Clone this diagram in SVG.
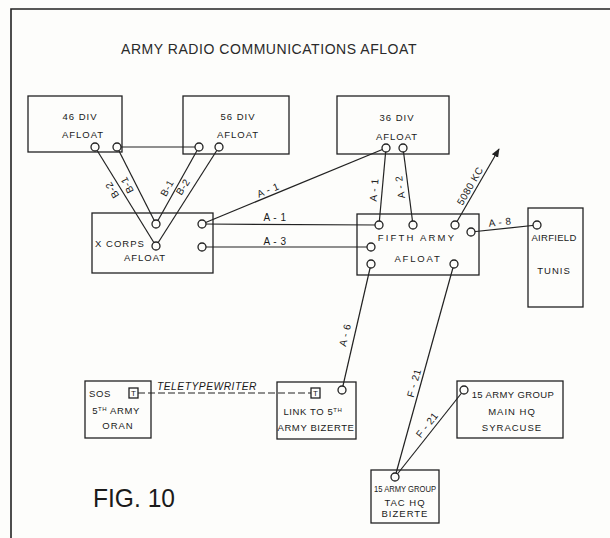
<svg xmlns="http://www.w3.org/2000/svg" width="610" height="538" viewBox="0 0 610 538">
<defs>
<style>
.bg{fill:#fdfdfb}
.frame{fill:none;stroke:#222;stroke-width:1.6}
.box{fill:none;stroke:#222;stroke-width:1.3}
.port{fill:#fdfdfb;stroke:#222;stroke-width:1.3}
.ln{fill:none;stroke:#222;stroke-width:1.2}
.dash{fill:none;stroke:#222;stroke-width:1.2;stroke-dasharray:7 3}
text{font-family:"Liberation Sans",Arial,sans-serif;fill:#1a1a1a}
.t{font-size:9.5px;letter-spacing:1px;text-anchor:middle}
.lb{font-size:10px;text-anchor:middle;letter-spacing:0.5px}
.title{font-size:15.5px;letter-spacing:0.6px;fill:#2a2a2a}
</style>
<marker id="arr" viewBox="0 0 10 10" refX="9" refY="5" markerWidth="9" markerHeight="9" markerUnits="userSpaceOnUse" orient="auto">
<path d="M0,1 L10,5 L0,9 Z" fill="#222"/>
</marker>
</defs>
<rect class="bg" x="0" y="0" width="610" height="538"/>
<path class="frame" d="M11,538 L11,9 L610,9"/>
<text class="title" x="121" y="54" textLength="296" lengthAdjust="spacingAndGlyphs">ARMY RADIO COMMUNICATIONS AFLOAT</text>

<g id="connectors">
<line class="ln" x1="117" y1="147" x2="199" y2="147"/>
<line class="ln" x1="95" y1="147" x2="156" y2="246"/>
<line class="ln" x1="117" y1="147" x2="156" y2="224"/>
<line class="ln" x1="199" y1="147" x2="156" y2="224"/>
<line class="ln" x1="219" y1="147" x2="156" y2="246"/>
<line class="ln" x1="202" y1="224" x2="386" y2="148"/>
<line class="ln" x1="202" y1="224" x2="379" y2="225"/>
<line class="ln" x1="202" y1="247" x2="371" y2="247"/>
<line class="ln" x1="386" y1="148" x2="379" y2="225"/>
<line class="ln" x1="403" y1="148" x2="413" y2="225"/>
<line class="ln" x1="455" y1="225" x2="499" y2="149" marker-end="url(#arr)"/>
<line class="ln" x1="471" y1="232" x2="537" y2="225"/>
<line class="ln" x1="371" y1="264" x2="342" y2="390"/>
<line class="ln" x1="454" y1="264" x2="395" y2="477"/>
<line class="ln" x1="464" y1="390" x2="395" y2="477"/>
<line class="dash" x1="138" y1="393" x2="311" y2="393"/>
<g class="labels">
<text class="lb" transform="translate(112,190) rotate(-121.6)" y="3.5">B-2</text>
<text class="lb" transform="translate(127,185) rotate(-116.9)" y="3.5">B-1</text>
<text class="lb" transform="translate(167,188) rotate(-60.8)" y="3.5">B-1</text>
<text class="lb" transform="translate(183,187) rotate(-57.5)" y="3.5">B-2</text>
<text class="lb" transform="translate(268,190) rotate(-22.4)" y="3.5">A - 1</text>
<text class="lb" x="275" y="221">A - 1</text>
<text class="lb" x="275" y="245">A - 3</text>
<text class="lb" transform="translate(374,190) rotate(-84.8)" y="3.5">A - 1</text>
<text class="lb" transform="translate(400,187) rotate(-97)" y="3.5">A - 2</text>
<text class="lb" transform="translate(470,186) rotate(-60)" y="3.5">5080 KC</text>
<text class="lb" transform="translate(500,222) rotate(-6)" y="3.5">A - 8</text>
<text class="lb" transform="translate(345,335) rotate(-77)" y="3.5">A - 6</text>
<text class="lb" transform="translate(414,383) rotate(-74.5)" y="3.5">F - 21</text>
<text class="lb" transform="translate(427,425) rotate(-51.6)" y="3.5">F - 21</text>
<text class="lb" x="207" y="390" font-style="italic" textLength="100" lengthAdjust="spacingAndGlyphs">TELETYPEWRITER</text>
</g>
</g>

<g id="div46">
<rect class="box" x="28" y="96" width="94" height="56"/>
<text class="t" x="80" y="120">46 DIV</text>
<text class="t" x="83" y="138">AFLOAT</text>
<circle class="port" cx="95" cy="147" r="4"/>
<circle class="port" cx="117" cy="147" r="4"/>
</g>

<g id="div56">
<rect class="box" x="183" y="96" width="106" height="58"/>
<text class="t" x="238" y="120">56 DIV</text>
<text class="t" x="238" y="138">AFLOAT</text>
<circle class="port" cx="199" cy="147" r="4"/>
<circle class="port" cx="219" cy="147" r="4"/>
</g>

<g id="div36">
<rect class="box" x="337" y="96" width="112" height="58"/>
<text class="t" x="397" y="121">36 DIV</text>
<text class="t" x="397" y="140">AFLOAT</text>
<circle class="port" cx="386" cy="148" r="4"/>
<circle class="port" cx="403" cy="148" r="4"/>
</g>

<g id="xcorps">
<rect class="box" x="92" y="213" width="121" height="60"/>
<text class="t" x="120" y="247">X CORPS</text>
<text class="t" x="145" y="261">AFLOAT</text>
<circle class="port" cx="156" cy="224" r="4"/>
<circle class="port" cx="156" cy="246" r="4"/>
<circle class="port" cx="202" cy="224" r="4"/>
<circle class="port" cx="202" cy="247" r="4"/>
</g>

<g id="fifth">
<rect class="box" x="357" y="214" width="122" height="61"/>
<text class="t" x="417" y="241" style="letter-spacing:2.2px">FIFTH ARMY</text>
<text class="t" x="418" y="262" style="letter-spacing:1.8px">AFLOAT</text>
<circle class="port" cx="379" cy="225" r="4"/>
<circle class="port" cx="413" cy="225" r="4"/>
<circle class="port" cx="455" cy="225" r="4"/>
<circle class="port" cx="471" cy="232" r="4"/>
<circle class="port" cx="371" cy="247" r="4"/>
<circle class="port" cx="371" cy="264" r="4"/>
<circle class="port" cx="454" cy="264" r="4"/>
</g>

<g id="airfield">
<rect class="box" x="528" y="208" width="55" height="99"/>
<text class="t" x="554" y="241" style="letter-spacing:0.3px">AIRFIELD</text>
<text class="t" x="554" y="274">TUNIS</text>
<circle class="port" cx="537" cy="225" r="4"/>
</g>

<g id="sos">
<rect class="box" x="85" y="381" width="66" height="57"/>
<text class="t" x="100" y="397" style="letter-spacing:0.6px">SOS</text>
<rect class="box" x="129" y="388" width="9" height="10"/>
<text x="133.5" y="396" font-size="8" text-anchor="middle">T</text>
<text class="t" x="116" y="414" style="letter-spacing:0.6px">5<tspan font-size="6" dy="-3">TH</tspan><tspan dy="3"> ARMY</tspan></text>
<text class="t" x="118" y="429">ORAN</text>
</g>

<g id="link">
<rect class="box" x="277" y="382" width="79" height="57"/>
<rect class="box" x="311" y="388" width="9" height="10"/>
<text x="315.5" y="396" font-size="8" text-anchor="middle">T</text>
<circle class="port" cx="342" cy="390" r="4"/>
<text class="t" x="313" y="415" style="letter-spacing:0.6px">LINK TO 5<tspan font-size="6" dy="-3">TH</tspan></text>
<text class="t" x="316" y="431" style="letter-spacing:0.6px">ARMY BIZERTE</text>
</g>

<g id="mainhq">
<rect class="box" x="457" y="381" width="106" height="57"/>
<circle class="port" cx="464" cy="390" r="4"/>
<text class="t" x="513" y="398" style="letter-spacing:0.4px">15 ARMY GROUP</text>
<text class="t" x="512" y="415">MAIN HQ</text>
<text class="t" x="512" y="431">SYRACUSE</text>
</g>

<g id="tachq">
<rect class="box" x="371" y="470" width="68" height="53"/>
<circle class="port" cx="395" cy="477" r="4"/>
<text class="t" x="374" y="492" textLength="62" lengthAdjust="spacingAndGlyphs" style="text-anchor:start;letter-spacing:0">15 ARMY GROUP</text>
<text class="t" x="405" y="506">TAC HQ</text>
<text class="t" x="405" y="517">BIZERTE</text>
</g>

<text x="93" y="507" font-size="25" textLength="82" lengthAdjust="spacingAndGlyphs">FIG. 10</text>
</svg>
